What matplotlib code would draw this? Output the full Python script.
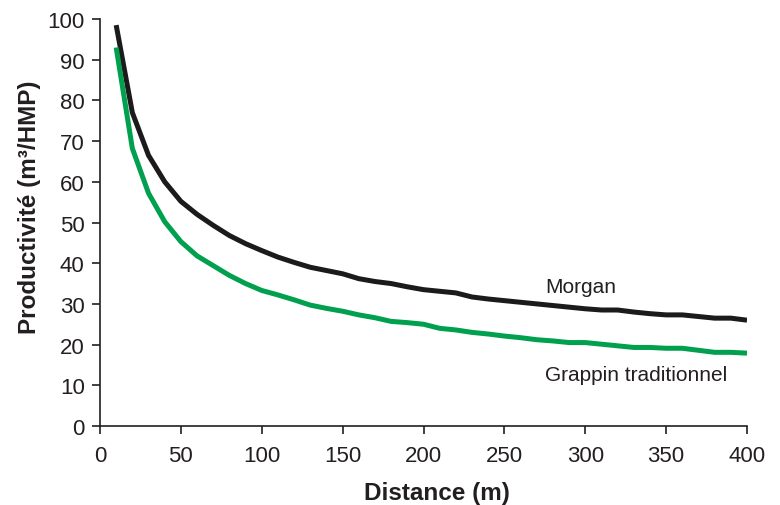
import matplotlib
matplotlib.use("Agg")
import matplotlib.pyplot as plt

distance = [10, 20, 30, 40, 50, 60, 70, 80, 90, 100, 110, 120, 130, 140, 150,
            160, 170, 180, 190, 200, 210, 220, 230, 240, 250, 260, 270, 280, 290,
            300, 310, 320, 330, 340, 350, 360, 370, 380, 390, 400]
morgan = [98.5, 77.0, 66.5, 60.0, 55.2, 52.0, 49.3, 46.8, 44.8, 43.1, 41.5, 40.2,
          39.0, 38.2, 37.4, 36.2, 35.5, 35.0, 34.2, 33.5, 33.1, 32.7, 31.7, 31.2,
          30.8, 30.4, 30.0, 29.6, 29.2, 28.8, 28.5, 28.5, 28.0, 27.6, 27.3, 27.3,
          26.9, 26.5, 26.5, 26.0]
grappin = [93.0, 68.2, 57.2, 50.2, 45.3, 41.8, 39.4, 37.0, 35.0, 33.3, 32.2, 31.0,
           29.7, 28.9, 28.2, 27.3, 26.6, 25.7, 25.4, 25.0, 24.0, 23.6, 23.0, 22.6,
           22.1, 21.7, 21.2, 20.9, 20.5, 20.5, 20.1, 19.7, 19.3, 19.3, 19.1, 19.1,
           18.6, 18.1, 18.1, 17.9]
x_ticks = [0, 50, 100, 150, 200, 250, 300, 350, 400]
y_ticks = [0, 10, 20, 30, 40, 50, 60, 70, 80, 90, 100]
labels = {"morgan": "Morgan", "grappin": "Grappin traditionnel"}

TXT = '#231f20'
plt.rcParams['font.family'] = ['Liberation Sans', 'DejaVu Sans']

fig = plt.figure(figsize=(7.8, 5.06), dpi=100)
ax = fig.add_axes([100/780, 1 - 427/506, 647/780, 407/506])

ax.plot(distance, morgan, color='#1c1a1b', lw=3.6, solid_capstyle='butt')
ax.plot(distance, grappin, color='#00a04f', lw=3.6, solid_capstyle='butt')

ax.set_xlim(0, 400)
ax.set_ylim(0, 100)
ax.set_xticks(x_ticks)
ax.set_yticks(y_ticks)
ax.tick_params(axis='both', labelsize=16, length=6, width=1.2, color=TXT,
               labelcolor=TXT, direction='out')
ax.tick_params(axis='y', pad=5)
ax.tick_params(axis='x', pad=8)
for s in ['top', 'right']:
    ax.spines[s].set_visible(False)
for s in ['left', 'bottom']:
    ax.spines[s].set_linewidth(1.2)
    ax.spines[s].set_color(TXT)

ax.set_xlabel("Distance (m)", fontsize=17.5, fontweight='bold', color=TXT)
ax.set_ylabel("Productivité (m³/HMP)", fontsize=17.5, fontweight='bold', color=TXT)
ax.xaxis.set_label_coords(0.521, -0.135)
ax.yaxis.set_label_coords(-0.0912, 0.54)

ax.text(275, 32.85, labels["morgan"], fontsize=15, color=TXT,
        ha='left', va='baseline')
ax.text(275, 11.4, labels["grappin"], fontsize=15, color=TXT,
        ha='left', va='baseline')

fig.savefig("out.png", dpi=100)
